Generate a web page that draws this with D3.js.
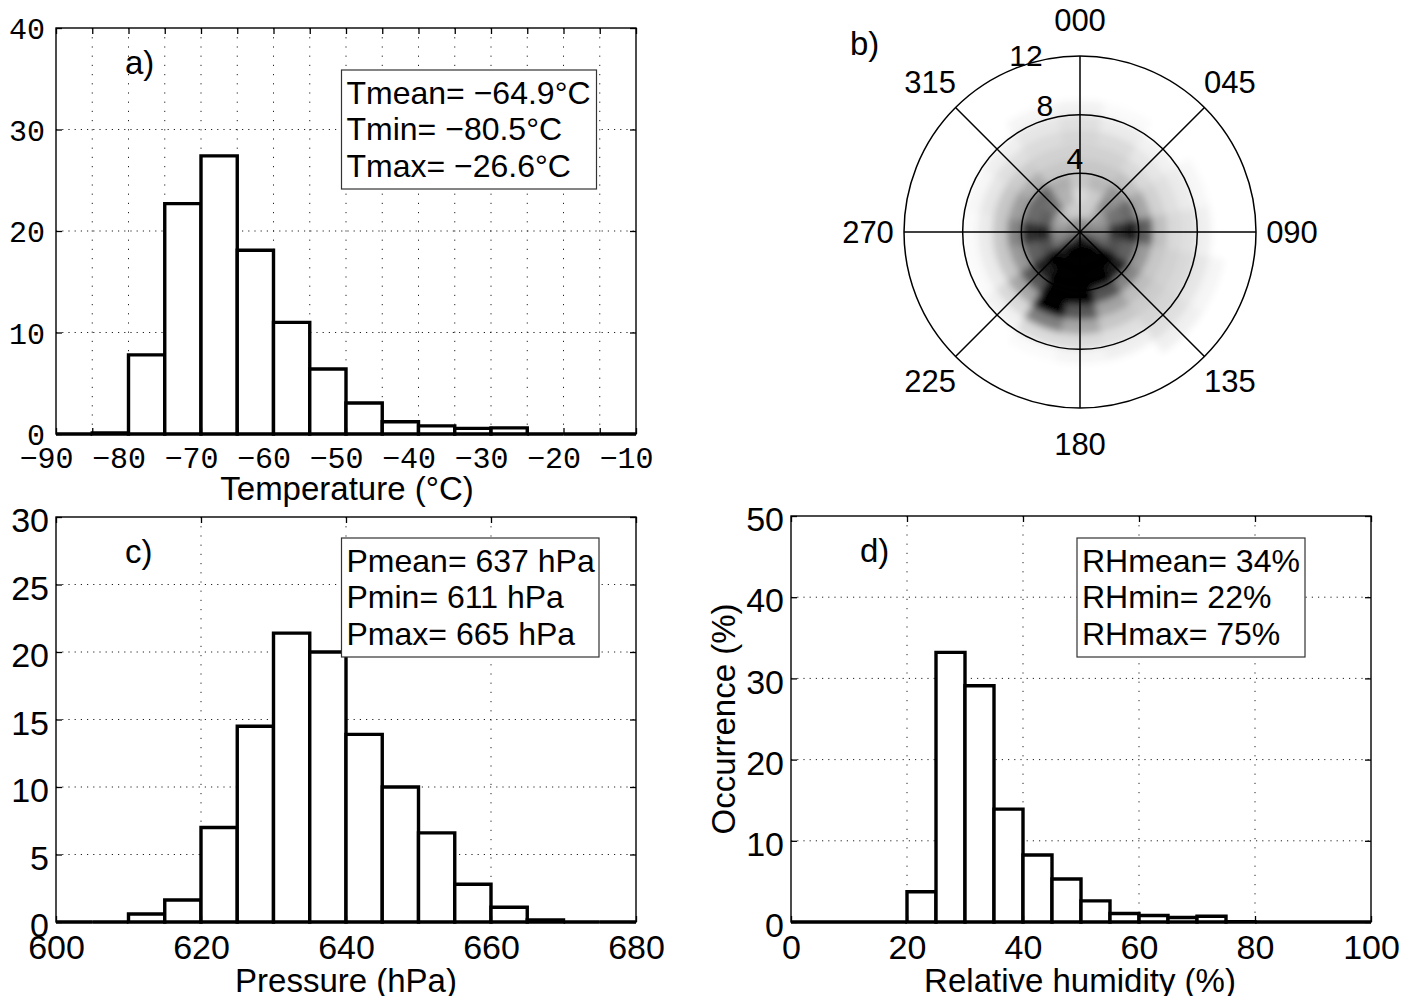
<!DOCTYPE html>
<html><head><meta charset="utf-8">
<script src="https://cdn.jsdelivr.net/npm/d3@7"></script>
<style>body{margin:0;background:#fff}svg{display:block}</style>
</head><body>
<script>
// ---------------- DATA ----------------
// a) temperature histogram (bin lower edges, width 5 °C)
const tempBins   = [-90,-85,-80,-75,-70,-65,-60,-55,-50,-45,-40,-35,-30,-25,-20,-15];
const tempValues = [0,0.1,7.8,22.7,27.4,18.1,11.0,6.4,3.05,1.2,0.8,0.55,0.6,0,0,0];
const tempXTicks = [-90,-85,-80,-75,-70,-65,-60,-55,-50,-45,-40,-35,-30,-25,-20,-15,-10];
const tempXLabels = [-90,-80,-70,-60,-50,-40,-30,-20,-10];
const tempYTicks = [0,10,20,30,40];
const tempStats = ["Tmean= \u221264.9\u00B0C","Tmin= \u221280.5\u00B0C","Tmax= \u221226.6\u00B0C"];

// c) pressure histogram (bin lower edges, width 5 hPa)
const pressBins   = [600,605,610,615,620,625,630,635,640,645,650,655,660,665,670,675];
const pressValues = [0,0,0.59,1.63,7.0,14.5,21.4,20.0,13.9,10.0,6.6,2.8,1.09,0.15,0,0];
const pressXTicks = [600,620,640,660,680];
const pressYTicks = [0,5,10,15,20,25,30];
const pressStats = ["Pmean= 637 hPa","Pmin= 611 hPa","Pmax= 665 hPa"];

// d) relative humidity histogram (bin lower edges, width 5 %)
const rhBins   = [0,5,10,15,20,25,30,35,40,45,50,55,60,65,70,75,80,85,90,95];
const rhValues = [0,0,0,0,3.73,33.2,29.1,13.9,8.25,5.3,2.6,1.05,0.8,0.55,0.7,0.05,0,0,0,0];
const rhXTicks = [0,20,40,60,80,100];
const rhYTicks = [0,10,20,30,40,50];
const rhStats = ["RHmean= 34%","RHmin= 22%","RHmax= 75%"];

// b) wind rose density (direction sectors x speed bins 0-1,1-2,...,9-10), 0 = white, 1 = black
const windDirs = [0,22.5,45,67.5,90,112.5,135,157.5,180,202.5,225,247.5,270,292.5,315,337.5];
const windSpeedEdges = [0,1,2,3,4,5,6,7,8,9,10];
const windDensity = [
  [0.45,0.20,0.15,0.22,0.22,0.18,0.16,0.12,0.05,0],
  [0.45,0.20,0.20,0.28,0.22,0.18,0.14,0.08,0.02,0],
  [0.45,0.35,0.45,0.42,0.25,0.15,0.10,0.05,0,0],
  [0.45,0.40,0.55,0.58,0.35,0.18,0.12,0.08,0.03,0],
  [0.50,0.50,0.80,0.88,0.62,0.25,0.15,0.12,0.06,0],
  [0.60,0.58,0.68,0.62,0.40,0.22,0.18,0.15,0.10,0.04],
  [0.75,0.95,1.00,0.90,0.48,0.26,0.20,0.16,0.12,0.06],
  [0.92,1.00,1.00,1.00,0.68,0.36,0.22,0.12,0.06,0],
  [1.00,1.00,1.00,1.00,1.00,0.65,0.35,0.14,0.04,0],
  [0.90,1.00,1.00,1.00,1.00,1.00,0.50,0.14,0.02,0],
  [0.70,0.88,1.00,0.88,0.65,0.35,0.15,0.05,0,0],
  [0.55,0.52,0.68,0.62,0.40,0.22,0.08,0.02,0,0],
  [0.50,0.45,0.85,0.82,0.48,0.22,0.08,0.02,0,0],
  [0.45,0.35,0.62,0.58,0.38,0.22,0.10,0.03,0,0],
  [0.45,0.30,0.55,0.58,0.32,0.20,0.12,0.06,0,0],
  [0.45,0.20,0.30,0.32,0.22,0.18,0.14,0.10,0.04,0]
];
const compassLabels = ["000","045","090","135","180","225","270","315"];
const compassAngles = [0,45,90,135,180,225,270,315];
const speedRings = [4,8,12];

// ---------------- RENDER ----------------
const W = 1401, H = 996;
const SANS = "'Liberation Sans', Arial, Helvetica, sans-serif";
const MONO = "'Liberation Mono', 'Courier New', monospace";
const svg = d3.select("body").append("svg").attr("width", W).attr("height", H);
svg.append("rect").attr("width", W).attr("height", H).attr("fill", "#fff");

function histPanel(cfg) {
  const {L, R, T, B} = cfg.box;
  const x = d3.scaleLinear().domain(cfg.xDomain).range([L, R]);
  const y = d3.scaleLinear().domain(cfg.yDomain).range([B, T]);
  const g = svg.append("g");

  // grid
  const xg = cfg.xGrid.filter(v => v > cfg.xDomain[0] && v < cfg.xDomain[1]);
  const yg = cfg.yTicks.filter(v => v > cfg.yDomain[0] && v < cfg.yDomain[1]);
  g.selectAll(".vg").data(xg).join("line")
    .attr("x1", d => x(d)).attr("x2", d => x(d)).attr("y1", T).attr("y2", B)
    .attr("stroke", "#222").attr("stroke-width", 1).attr("stroke-dasharray", "1.2,8");
  g.selectAll(".hg").data(yg).join("line")
    .attr("x1", L).attr("x2", R).attr("y1", d => y(d)).attr("y2", d => y(d))
    .attr("stroke", "#222").attr("stroke-width", 1).attr("stroke-dasharray", "1.2,5");

  // bars
  g.selectAll(".bar").data(cfg.bins.map((b, i) => ({x0: b, x1: b + cfg.binWidth, v: cfg.values[i]})))
    .join("path")
    .attr("d", d => `M${x(d.x0)},${y(0)}V${y(d.v)}H${x(d.x1)}V${y(0)}Z`)
    .attr("fill", "#fff").attr("stroke", "#000").attr("stroke-width", 3.4)
    .attr("stroke-linejoin", "miter");

  // frame
  g.append("rect").attr("x", L).attr("y", T).attr("width", R - L).attr("height", B - T)
    .attr("fill", "none").attr("stroke", "#000").attr("stroke-width", 1.4);

  // axes (inward ticks)
  const tickStyle = sel => { sel.select(".domain").remove(); sel.selectAll("line").attr("stroke", "#000").attr("stroke-width", 1.3); };
  const bx = g.append("g").attr("transform", `translate(0,${B})`)
    .call(d3.axisBottom(x).tickValues(cfg.xTicks).tickSize(-6).tickFormat(cfg.xFormat));
  tickStyle(bx);
  bx.selectAll("text").attr("y", cfg.xLabelOffset).attr("dy", 0).attr("dx", cfg.xLabelDx || 0)
    .attr("font-family", cfg.tickFont).attr("font-size", cfg.tickSize).attr("fill", "#000");
  const tx = g.append("g").attr("transform", `translate(0,${T})`)
    .call(d3.axisTop(x).tickValues(cfg.xTicks).tickSize(-6).tickFormat(""));
  tickStyle(tx);
  const ly = g.append("g").attr("transform", `translate(${L},0)`)
    .call(d3.axisLeft(y).tickValues(cfg.yTicks).tickSize(-6).tickFormat(d3.format("d")));
  tickStyle(ly);
  ly.selectAll("text").attr("x", cfg.yLabelX).attr("dy", 0).attr("y", cfg.yLabelDy)
    .attr("font-family", cfg.tickFont).attr("font-size", cfg.tickSize).attr("fill", "#000");
  const ry = g.append("g").attr("transform", `translate(${R},0)`)
    .call(d3.axisRight(y).tickValues(cfg.yTicks).tickSize(-6).tickFormat(""));
  tickStyle(ry);

  // x label
  g.append("text").attr("x", cfg.xTitlePos[0]).attr("y", cfg.xTitlePos[1])
    .attr("text-anchor", "middle").attr("font-family", SANS).attr("font-size", 33)
    .text(cfg.xTitle);
  if (cfg.yTitle) {
    g.append("text").attr("transform", `translate(${cfg.yTitlePos[0]},${cfg.yTitlePos[1]}) rotate(-90)`)
      .attr("text-anchor", "middle").attr("dominant-baseline", "central")
      .attr("font-family", SANS).attr("font-size", 33).text(cfg.yTitle);
  }
  // panel letter
  g.append("text").attr("x", L + 69).attr("y", cfg.letterY).attr("font-family", SANS)
    .attr("font-size", 33).text(cfg.letter);

  // stats box
  const sb = cfg.statsBox;
  g.append("rect").attr("x", sb[0]).attr("y", sb[1]).attr("width", sb[2]).attr("height", sb[3])
    .attr("fill", "#fff").attr("stroke", "#333").attr("stroke-width", 1.2);
  g.selectAll(".st").data(cfg.stats).join("text")
    .attr("x", sb[0] + 5).attr("y", (d, i) => sb[1] + 33.5 + i * 36.8)
    .attr("font-family", SANS).attr("font-size", 32).text(d => d);
}

const minus = v => (v < 0 ? "\u2212" + Math.abs(v) : String(v));

histPanel({
  box: {L: 56, R: 636, T: 28, B: 434},
  xDomain: [-90, -10], yDomain: [0, 40],
  bins: tempBins, values: tempValues, binWidth: 5,
  xTicks: tempXTicks, xGrid: tempXTicks, yTicks: tempYTicks,
  xFormat: d => tempXLabels.includes(d) ? minus(d) : "",
  tickFont: MONO, tickSize: 30, xLabelOffset: 33.5, xLabelDx: -10,
  yLabelX: -11, yLabelDy: 10.5,
  xTitle: "Temperature (\u00B0C)", xTitlePos: [347, 500],
  letter: "a)", letterY: 74,
  statsBox: [341.5, 70, 255, 119], stats: tempStats
});

histPanel({
  box: {L: 56, R: 636, T: 517, B: 922},
  xDomain: [600, 680], yDomain: [0, 30],
  bins: pressBins, values: pressValues, binWidth: 5,
  xTicks: pressXTicks, xGrid: pressXTicks, yTicks: pressYTicks,
  xFormat: d3.format("d"),
  tickFont: SANS, tickSize: 34, xLabelOffset: 37,
  yLabelX: -7, yLabelDy: 14.7,
  xTitle: "Pressure (hPa)", xTitlePos: [346, 992],
  letter: "c)", letterY: 563,
  statsBox: [341.5, 538, 257.5, 119], stats: pressStats
});

histPanel({
  box: {L: 791, R: 1371, T: 516, B: 922},
  xDomain: [0, 100], yDomain: [0, 50],
  bins: rhBins, values: rhValues, binWidth: 5,
  xTicks: rhXTicks, xGrid: rhXTicks, yTicks: rhYTicks,
  xFormat: d3.format("d"),
  tickFont: SANS, tickSize: 34, xLabelOffset: 37,
  yLabelX: -7, yLabelDy: 14.7,
  xTitle: "Relative humidity (%)", xTitlePos: [1080, 992],
  yTitle: "Occurrence (%)", yTitlePos: [723, 719],
  letter: "d)", letterY: 562,
  statsBox: [1077, 538, 228, 119], stats: rhStats
});

// ---------------- b) polar density ----------------
const cx = 1080, cy = 232;
const rScale = d3.scaleLinear().domain([0, 12]).range([0, 176]);
const pg = svg.append("g").attr("transform", `translate(${cx},${cy})`);
const defs = svg.append("defs");
defs.append("clipPath").attr("id", "polarClip").append("circle").attr("r", rScale(12));
defs.append("filter").attr("id", "soft").attr("x", "-30%").attr("y", "-30%")
  .attr("width", "160%").attr("height", "160%")
  .append("feGaussianBlur").attr("stdDeviation", 3.8);
const grey = d3.scaleLinear().domain([0, 1]).range(["#ffffff", "#000000"]).clamp(true);
const sector = 360 / windDirs.length;
const cells = [];
windDirs.forEach((dir, i) => {
  windDensity[i].forEach((v, j) => {
    cells.push({dir, r0: windSpeedEdges[j], r1: windSpeedEdges[j + 1], v});
  });
});
const arc = d3.arc();
pg.append("g").attr("clip-path", "url(#polarClip)")
  .append("g").attr("filter", "url(#soft)")
  .selectAll("path").data(cells).join("path")
  .attr("d", d => arc({
    innerRadius: rScale(d.r0), outerRadius: rScale(d.r1),
    startAngle: (d.dir - sector / 2 - 0.3) * Math.PI / 180,
    endAngle: (d.dir + sector / 2 + 0.3) * Math.PI / 180
  }))
  .attr("fill", d => grey(d.v)).attr("stroke", d => grey(d.v)).attr("stroke-width", 0.8);

// rings and spokes
pg.selectAll(".ring").data(speedRings).join("circle")
  .attr("r", d => rScale(d)).attr("fill", "none").attr("stroke", "#000").attr("stroke-width", 1.5);
pg.selectAll(".spoke").data(compassAngles).join("line")
  .attr("x1", 0).attr("y1", 0)
  .attr("x2", d => rScale(12) * Math.sin(d * Math.PI / 180))
  .attr("y2", d => -rScale(12) * Math.cos(d * Math.PI / 180))
  .attr("stroke", "#000").attr("stroke-width", 1.5);
// compass labels
pg.selectAll(".cl").data(compassAngles).join("text")
  .attr("x", d => (rScale(12) + 36) * Math.sin(d * Math.PI / 180))
  .attr("y", d => -(rScale(12) + 36) * Math.cos(d * Math.PI / 180))
  .attr("text-anchor", "middle").attr("dominant-baseline", "central")
  .attr("font-family", SANS).attr("font-size", 31)
  .text((d, i) => compassLabels[i]);
// speed ring labels (placed just outside each ring, slightly west of north)
const ringLabelAngle = {4: -4, 8: -15.5, 12: -17};
const ringLabelPad = {4: 15, 8: 14, 12: 9};
pg.selectAll(".rl").data(speedRings).join("text")
  .attr("x", d => (rScale(d) + ringLabelPad[d]) * Math.sin(ringLabelAngle[d] * Math.PI / 180))
  .attr("y", d => -(rScale(d) + ringLabelPad[d]) * Math.cos(ringLabelAngle[d] * Math.PI / 180))
  .attr("text-anchor", "middle").attr("dominant-baseline", "central")
  .attr("font-family", SANS).attr("font-size", 30)
  .text(d => d);
svg.append("text").attr("x", 850).attr("y", 55).attr("font-family", SANS)
  .attr("font-size", 33).text("b)");
</script>
</body></html>
